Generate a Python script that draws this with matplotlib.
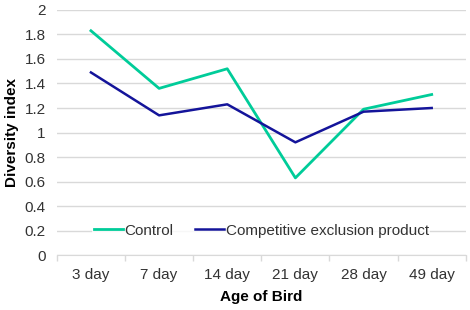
import matplotlib
matplotlib.use("Agg")
import matplotlib.pyplot as plt
import numpy as np

categories = ["3 day", "7 day", "14 day", "21 day", "28 day", "49 day"]
control = [1.83, 1.36, 1.52, 0.63, 1.19, 1.31]
ce_product = [1.49, 1.14, 1.23, 0.92, 1.17, 1.20]
yticks = [0, 0.2, 0.4, 0.6, 0.8, 1, 1.2, 1.4, 1.6, 1.8, 2]

plt.rcParams['font.family'] = ['Liberation Sans', 'DejaVu Sans']

fig = plt.figure(figsize=(4.7, 3.1), dpi=100)
ax = fig.add_axes([0.121, 0.177, 0.870, 0.791])

x = np.arange(len(categories))
ax.plot(x, control, color="#00CC99", lw=2.0, label="Control", zorder=3)
ax.plot(x, ce_product, color="#14149A", lw=1.8, label="Competitive exclusion product", zorder=3)

ax.set_xlim(-0.5, len(categories) - 0.5)
ax.set_ylim(0, 2)
ax.set_yticks(yticks)
ax.set_yticklabels([f"{v:g}" for v in yticks])
ax.yaxis.grid(True, color="#D9D9D9", lw=1.0)
ax.set_axisbelow(True)
ax.tick_params(axis='y', length=0, labelsize=11, colors="#333333", pad=8)

ax.set_xticks(x)
ax.set_xticklabels(categories)
ax.tick_params(axis='x', which='major', length=0, labelsize=11, colors="#333333", pad=9)
ax.set_xticks(np.arange(-0.5, len(categories), 1), minor=True)
ax.tick_params(axis='x', which='minor', length=4, color="#D9D9D9", width=1)

for s in ["top", "right", "left"]:
    ax.spines[s].set_visible(False)
ax.spines["bottom"].set_color("#D9D9D9")

ax.set_ylabel("Diversity index", fontsize=11, fontweight="bold", labelpad=4)
ax.set_xlabel("Age of Bird", fontsize=11, fontweight="bold", labelpad=6)

leg = ax.legend(loc="center", bbox_to_anchor=(0.5, 0.1), ncol=2, frameon=True,
                fontsize=11, handlelength=1.9, handletextpad=0.1, columnspacing=1.4,
                borderpad=0.1, borderaxespad=0)
leg.get_frame().set_facecolor("white")
leg.get_frame().set_edgecolor("none")
for t in leg.get_texts():
    t.set_color("#333333")

fig.savefig("out.png", dpi=100, facecolor="white")
